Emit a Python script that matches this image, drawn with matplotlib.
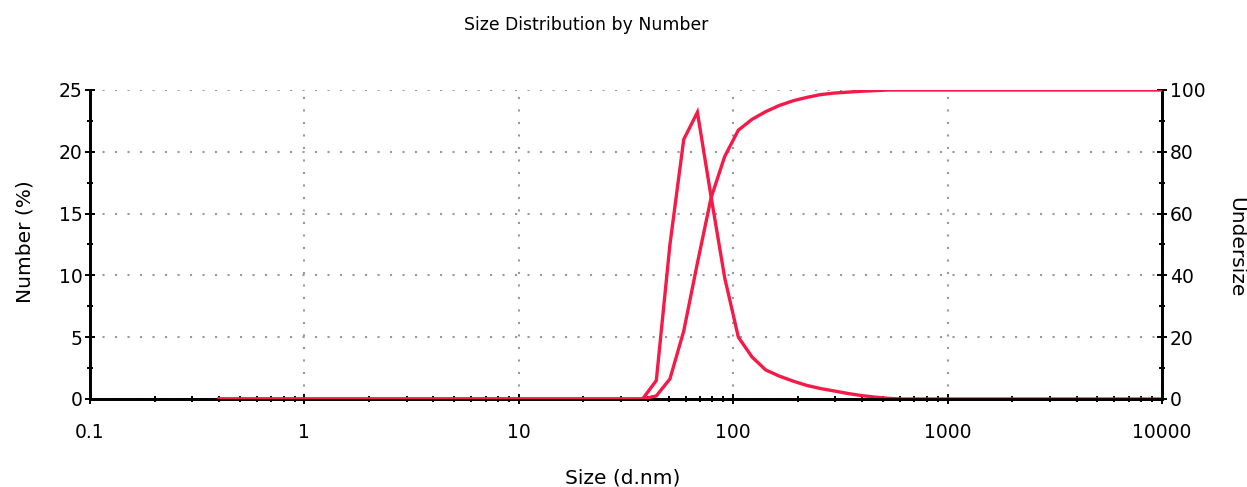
import matplotlib.pyplot as plt
from matplotlib.ticker import FixedLocator, NullFormatter

plt.rcParams['font.family'] = ['DejaVu Sans']

# size bins (d.nm)
sizes = [0.4, 1.0, 5.0, 20.0, 37.8, 43.8, 50.7, 58.8, 68.1, 78.8, 91.3, 105.7,
         122.4, 141.8, 164.2, 190.1, 220.2, 255.0, 295.3, 342.0, 396.1, 458.7,
         531.2, 615.1, 1000.0, 5000.0, 10000.0]

number_pct = [0, 0, 0, 0, 0, 1.5, 12.5, 21.0, 23.2, 16.4, 9.8, 5.0,
              3.4, 2.35, 1.85, 1.45, 1.1, 0.85, 0.65, 0.45, 0.28, 0.15,
              0.05, 0, 0, 0, 0]

undersize = [0, 0, 0, 0, 0, 1.0, 6.5, 22.0, 44.0, 65.0, 78.5, 87.0,
             90.5, 93.0, 95.0, 96.5, 97.6, 98.5, 99.0, 99.3, 99.6, 99.8,
             100, 100, 100, 100, 100]

red = '#f51a48'

fig = plt.figure(figsize=(12.47, 4.87), dpi=100)
ax = fig.add_axes([0.0722, 0.1807, 0.8596, 0.6345])
ax2 = ax.twinx()

ax.plot(sizes, number_pct, color=red, lw=2.4, solid_joinstyle='miter', zorder=3)
ax2.plot(sizes, undersize, color=red, lw=2.4, solid_joinstyle='miter', zorder=3)

ax.set_xscale('log')
ax.set_xlim(0.1, 10000)
ax.set_ylim(0, 25)
ax2.set_ylim(0, 100)

ax.set_xticks([0.1, 1, 10, 100, 1000, 10000])
ax.set_xticklabels(['0.1', '1', '10', '100', '1000', '10000'])
ax.xaxis.set_minor_locator(FixedLocator(
    [m * 10.0 ** e for e in range(-1, 4) for m in range(2, 10)]))
ax.xaxis.set_minor_formatter(NullFormatter())
ax.set_yticks([0, 5, 10, 15, 20, 25])
ax.set_yticks([2.5, 7.5, 12.5, 17.5, 22.5], minor=True)
ax2.set_yticks([0, 20, 40, 60, 80, 100])
ax2.set_yticks([10, 30, 50, 70, 90], minor=True)

for a in (ax, ax2):
    a.tick_params(which='major', direction='inout', length=7, width=1.4,
                  labelsize=13.5, pad=2)
    a.tick_params(which='minor', direction='inout', length=5, width=1.4)
    for s in a.spines.values():
        s.set_linewidth(2)
    a.spines['top'].set_visible(False)

ax.grid(True, which='major', axis='both', color='#999999', ls=(0, (1, 5)), lw=1.5)
ax.tick_params(axis='x', pad=14)

fig.text(0.4703, 0.9394, 'Size Distribution by Number', ha='center',
         va='baseline', fontsize=12.4)
fig.text(0.4992, 0.0082, 'Size (d.nm)', ha='center', va='baseline', fontsize=14.5)
fig.text(0.02, 0.504, 'Number (%)', ha='center', va='center', rotation=90,
         fontsize=14.5)
fig.text(0.9912, 0.492, 'Undersize', ha='center', va='center', rotation=270,
         fontsize=14.5)

fig.savefig('out.png', dpi=100)
